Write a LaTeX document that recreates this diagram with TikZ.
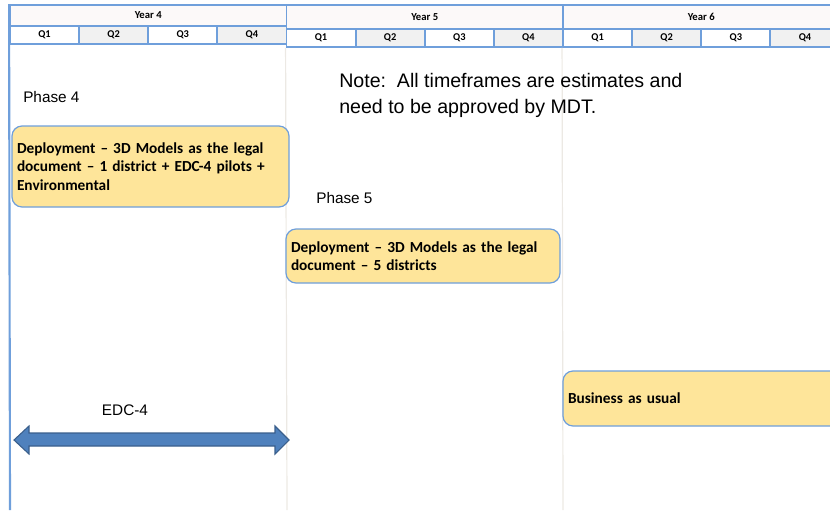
\documentclass[tikz,border=0pt]{standalone}
\usepackage{fontspec}
\setmainfont{Liberation Sans}
\newfontfamily\calibri{Carlito}
\usetikzlibrary{positioning}
\definecolor{hdrblue}{HTML}{6F9FDB}
\definecolor{boxfill}{HTML}{FEE59A}
\definecolor{arrowfill}{HTML}{4F81BD}
\definecolor{arrowline}{HTML}{3A5F8C}
\definecolor{qgray}{HTML}{F1F1F1}
\definecolor{yearfill}{HTML}{FCF9F9}
\definecolor{sepgray}{HTML}{ECE9E4}
\tikzset{>=latex}
\tikzstyle{yearcell}=[rectangle,draw=hdrblue,fill=yearfill,line width=1.4pt,inner sep=0pt,font=\calibri\bfseries\fontsize{8}{9}\selectfont]
\tikzstyle{qcell}=[rectangle,draw=hdrblue,line width=1.4pt,inner sep=0pt,font=\calibri\bfseries\fontsize{7.8}{9}\selectfont]
\tikzstyle{phasebox}=[rectangle,draw=hdrblue,fill=boxfill,line width=0.9pt,rounded corners=7.5pt,align=left,inner sep=3.75pt,font=\calibri\bfseries\fontsize{11.5}{13.9}\selectfont]
\tikzstyle{plain}=[inner sep=0pt,font=\fontsize{11.5}{14}\selectfont]

\begin{document}
\begin{tikzpicture}[x=0.75pt,y=-0.75pt]
\def \px {0.75pt};
\def \yw {276.5};
\def \qh {18};

\useasboundingbox (0,0) rectangle (830,510);

% quarter grid, one block per year
\foreach \yr/\dy [count=\k from 0] in {4/0,5/3,6/3} {
	\node[yearcell,minimum width=\yw*\px,minimum height=(21+\dy)*\px] (Y\yr)
	at ({10+\yw*(\k+0.5)}, {5+(21+\dy)/2}) {Year \yr};
	\foreach \q/\qfill in {1/white,2/qgray,3/white,4/qgray} {
		\node[qcell,fill=\qfill,minimum width=\yw/4*\px,minimum height=\qh*\px] (Y\yr Q\q)
		at ({10+\yw*\k+\yw/4*(\q-0.5)}, {5+21+\dy+\qh/2}) {Q\q};
	};
};

\draw[sepgray, line width=0.9pt] (Y5Q1.south west) -- (287,510);
\draw[sepgray, line width=0.9pt] (Y6Q1.south west) -- (563,510);
\draw[hdrblue, line width=1.6pt] (Y4.north west) -- (10,510);

\node[plain,anchor=west] (ph4) at (23,97) {Phase 4};
\node[plain,anchor=west] (ph5) at (316,198) {Phase 5};

\node[inner sep=0pt,anchor=north west,align=left,font=\fontsize{14.7}{19.5}\selectfont] (note)
at (339,73) {Note:\ \ All timeframes are estimates and\\need to be approved by MDT.};

\node[phasebox,minimum width=277*\px,minimum height=81*\px,text width=267*\px] (dep4)
at (150.5,166.5) {Deployment \textendash\ 3D Models as the legal\\document \textendash\ 1 district + EDC-4 pilots +\\Environmental};

\node[phasebox,minimum width=274*\px,minimum height=54*\px,text width=264*\px] (dep5)
at (423,256) {Deployment \textendash\ 3D Models as the legal\\document \textendash\ 5 districts};

\node[phasebox,minimum width=337*\px,minimum height=55*\px,text width=327*\px] (bau)
at (731.5,398.5) {Business as usual};

% EDC-4 span
\node[plain] (edc) at (125,410) {EDC-4};
\draw[arrowline, fill=arrowfill, line width=0.8pt]
(14,440) -- (29,426) -- (29,433) -- (275,433) -- (275,426) -- (289,440)
-- (275,454) -- (275,446) -- (29,446) -- (29,454) -- cycle;

\end{tikzpicture}
\end{document}
